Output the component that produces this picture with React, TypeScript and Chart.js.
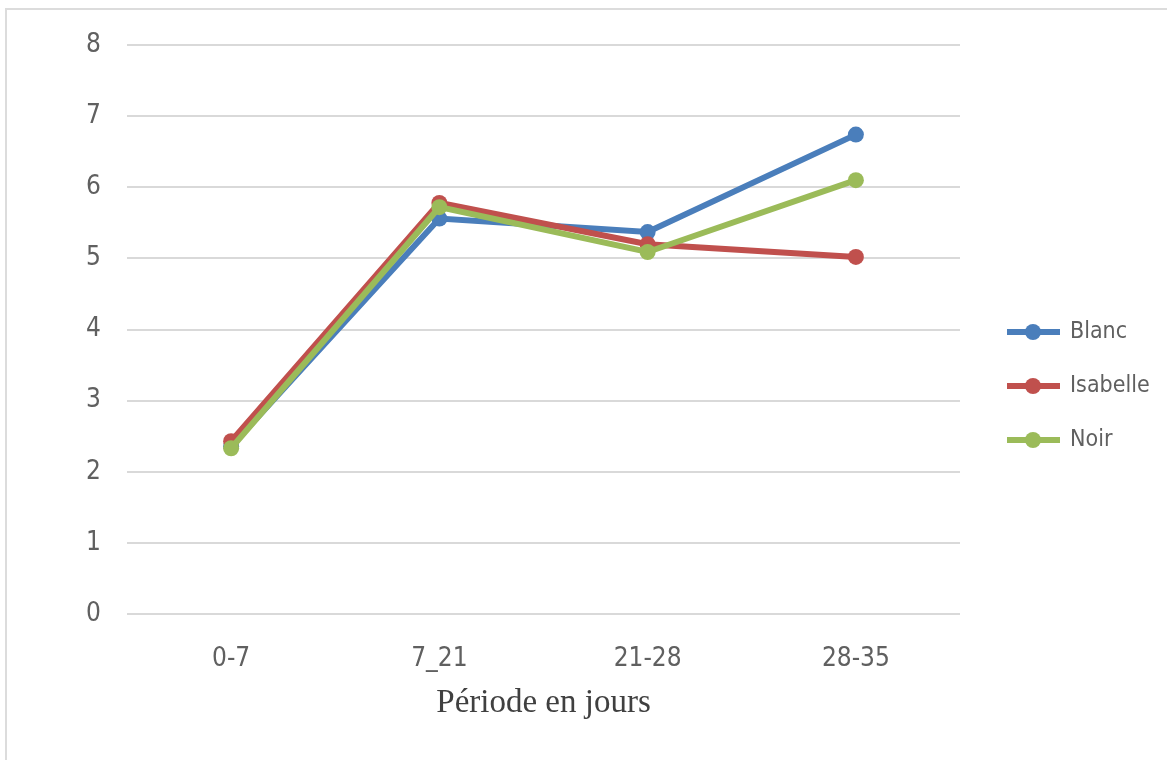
import React, { useEffect, useRef } from "react";
import { Chart, registerables } from "chart.js";

Chart.register(...registerables);

const categories = ["0-7", "7_21", "21-28", "28-35"];
const blanc = [2.36, 5.56, 5.37, 6.74];
const isabelle = [2.43, 5.78, 5.2, 5.02];
const noir = [2.33, 5.72, 5.09, 6.1];
const seriesNames = ["Blanc", "Isabelle", "Noir"];
const seriesColors = ["#4a7ebb", "#c0504d", "#9bbb59"];
const xTitle = "Période en jours";

const W = 1167;
const H = 760;
const SANS = '"Liberation Sans Narrow", "DejaVu Sans Condensed", "Roboto Condensed", "Liberation Sans", sans-serif';

export default function App() {
  const ref = useRef<HTMLCanvasElement | null>(null);

  useEffect(() => {
    if (!ref.current) return;
    const values = [blanc, isabelle, noir];
    const legendPlugin = {
      id: "sideLegend",
      afterDraw(chart: any) {
        const ctx = chart.ctx;
        ctx.save();
        seriesNames.forEach((name, i) => {
          const y = 332 + i * 54;
          ctx.strokeStyle = seriesColors[i];
          ctx.lineWidth = 6;
          ctx.beginPath();
          ctx.moveTo(1007, y);
          ctx.lineTo(1060, y);
          ctx.stroke();
          ctx.fillStyle = seriesColors[i];
          ctx.beginPath();
          ctx.arc(1033, y, 8, 0, Math.PI * 2);
          ctx.fill();
          ctx.fillStyle = "#606060";
          ctx.font = `23px ${SANS}`;
          ctx.textAlign = "left";
          ctx.textBaseline = "middle";
          ctx.fillText(name, 1070, y);
        });
        ctx.restore();
      },
    };

    const chart = new Chart(ref.current, {
      type: "line",
      data: {
        labels: categories,
        datasets: values.map((v, i) => ({
          label: seriesNames[i],
          data: v,
          borderColor: seriesColors[i],
          backgroundColor: seriesColors[i],
          borderWidth: 6,
          pointRadius: 8,
          pointHoverRadius: 8,
          pointBorderWidth: 0,
          tension: 0,
          order: 2 - i,
        })),
      },
      options: {
        responsive: false,
        animation: false,
        devicePixelRatio: 1,
        layout: { padding: { top: 45, right: 207, left: 0, bottom: 0 } },
        plugins: { legend: { display: false }, tooltip: { enabled: false } },
        scales: {
          x: {
            offset: true,
            grid: { display: false, drawTicks: false },
            border: { display: false },
            ticks: { color: "#606060", font: { family: SANS, size: 26 }, padding: 30 },
            title: {
              display: true,
              text: xTitle,
              color: "#404040",
              font: { family: '"Liberation Serif", "DejaVu Serif", serif', size: 33 },
              padding: { top: 0, bottom: 37 },
            },
            afterFit(scale: any) {
              scale.height = 146;
            },
          },
          y: {
            min: 0,
            max: 8,
            ticks: { stepSize: 1, color: "#606060", font: { family: SANS, size: 26 }, padding: 26 },
            grid: { color: "#d9d9d9", lineWidth: 2, drawTicks: false },
            border: { display: false },
            afterFit(scale: any) {
              scale.width = 127;
            },
          },
        },
      },
      plugins: [legendPlugin],
    });
    return () => chart.destroy();
  }, []);

  return (
    <div style={{ position: "fixed", left: 0, top: 0, width: W, height: H, background: "#fff" }}>
      <div
        style={{
          position: "absolute",
          left: 5,
          top: 8,
          right: 0,
          bottom: 0,
          borderTop: "2px solid #dcdcdc",
          borderLeft: "2px solid #dcdcdc",
        }}
      />
      <canvas ref={ref} width={W} height={H} style={{ position: "absolute", left: 0, top: 0 }} />
    </div>
  );
}
